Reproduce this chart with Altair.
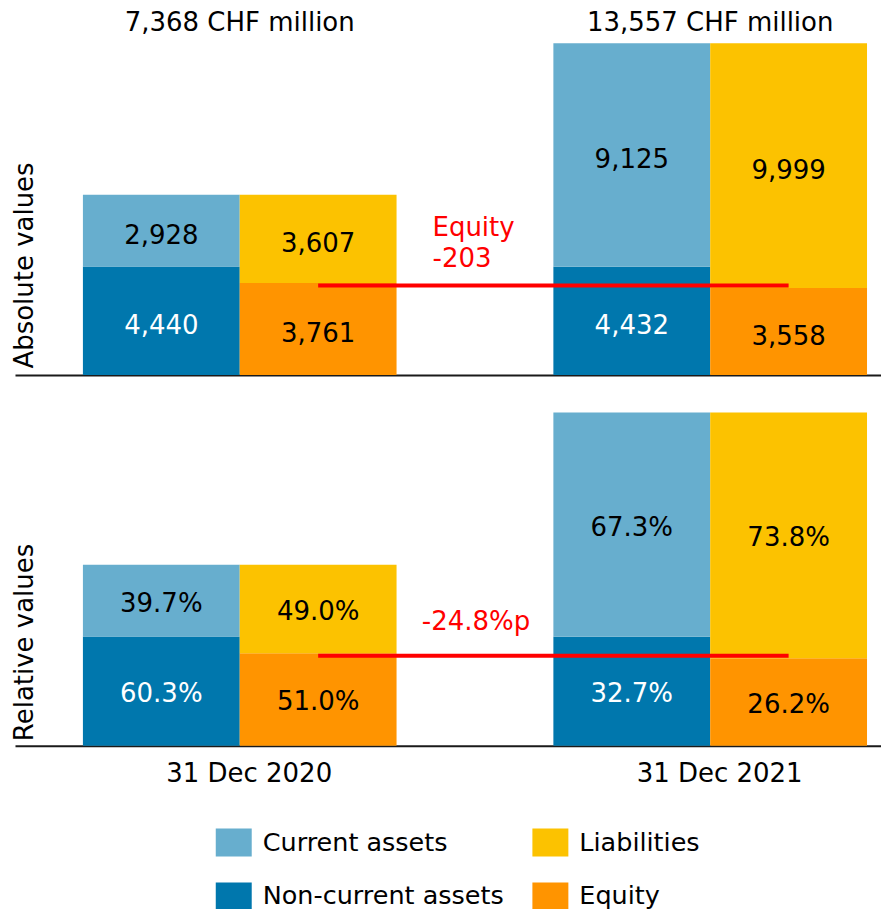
import altair as alt
import pandas as pd

# ---- data ----
years = ["31 Dec 2020", "31 Dec 2021"]
current_assets = [2928, 9125]
non_current_assets = [4440, 4432]
liabilities = [3607, 9999]
equity = [3761, 3558]
unit = "CHF million"

# legend order (filled column by column: left column assets, right column liabilities/equity)
categories = ["Current assets", "Non-current assets", "Liabilities", "Equity"]
colors = ["#67AECE", "#0077AD", "#FCC200", "#FF9400"]
RED = "#FF0000"
FONT = "DejaVu Sans"

# ---- build tables ----
rows = []
totals = []
for i, yr in enumerate(years):
    total = current_assets[i] + non_current_assets[i]
    sides = [
        [("Non-current assets", non_current_assets[i]), ("Current assets", current_assets[i])],
        [("Equity", equity[i]), ("Liabilities", liabilities[i])],
    ]
    for side, stack in enumerate(sides):
        base = 0
        for cat, v in stack:
            slot = 3 * i + side
            rows.append(dict(
                year=yr, category=cat, value=v,
                slot=slot, slot2=slot + 1, mid=slot + 0.5,
                y0=base, y1=base + v, ymid=base + v / 2,
                abs_label=f"{v:,}",
                rel_label=f"{v / total * 100:.1f}%",
            ))
            base += v
    totals.append(dict(year=yr, xmid=3 * i + 1, label=f"{total:,} {unit}"))

df = pd.DataFrame(rows)
df_tot = pd.DataFrame(totals)

eq = df[df.category == "Equity"].reset_index(drop=True)
tot0 = current_assets[0] + non_current_assets[0]
tot1 = current_assets[1] + non_current_assets[1]
eq_change = equity[1] - equity[0]
eq_change_pp = (equity[1] / tot1 - equity[0] / tot0) * 100
rule_y = (equity[0] + equity[1]) / 2
# centre of the empty slot between the two years
gap_mid = (df[df.year == years[0]].slot2.max() + df[df.year == years[1]].slot.min()) / 2

df_abs_change = pd.DataFrame([dict(x=eq.loc[0, "mid"], x2=eq.loc[1, "mid"], xm=gap_mid, y=rule_y,
                                   lines=["Equity", f"{eq_change:,}"])])
df_rel_change = pd.DataFrame([dict(x=eq.loc[0, "mid"], x2=eq.loc[1, "mid"], xm=gap_mid, y=rule_y,
                                   lines=[f"{eq_change_pp:.1f}%p"])])

STEP = 157.0
LEFT = 68.0
PLOT_W = 867
X_DOMAIN = [-LEFT / STEP, (PLOT_W - LEFT) / STEP]
date_expr = " : ".join(
    [f"datum.value == {3 * i + 1} ? '{y}'" for i, y in enumerate(years[:-1])] + [f"'{years[-1]}'"]
)

color_enc = alt.Color(
    "category:N",
    scale=alt.Scale(domain=categories, range=colors),
    legend=alt.Legend(
        title=None, orient="none", legendX=205, legendY=821, columns=2,
        symbolType="M-1.286,-1H1.286V1H-1.286Z", symbolSize=784,
        symbolStrokeWidth=0, symbolOpacity=1,
        labelFontSize=25.5, labelFont=FONT, labelColor="black",
        labelOffset=15, rowPadding=26, columnPadding=27, padding=0,
        labelLimit=400,
    ),
)


def panel(label_field, ytitle, ymax, height, title_y, dates, change_df, ann_align, ann_dx, ann_dy, label_dy):
    if dates:
        xaxis = alt.Axis(values=[3 * i + 1 for i in range(len(years))], labelExpr=date_expr,
                         ticks=False, tickSize=0, grid=False, title=None,
                         labelFontSize=26, labelFont=FONT, labelColor="black",
                         labelBaseline="alphabetic", labelPadding=36, labelOffset=9,
                         domainColor="#1a1a1a", domainWidth=2)
    else:
        xaxis = alt.Axis(labels=False, ticks=False, tickSize=0, grid=False, title=None,
                         domainColor="#1a1a1a", domainWidth=2)
    yaxis = alt.Axis(title=ytitle, labels=False, ticks=False, domain=False, grid=False,
                     titleX=-3, titleY=title_y, titleAngle=270, titleAlign="left",
                     titleBaseline="top", titleFontSize=26, titleFont=FONT,
                     titleFontWeight="normal", titleColor="black", minExtent=0)
    xs = alt.Scale(domain=X_DOMAIN, nice=False, zero=False)
    ys = alt.Scale(domain=[0, ymax], nice=False)

    bars = alt.Chart(df).mark_rect().encode(
        x=alt.X("slot:Q", scale=xs, axis=xaxis),
        x2="slot2:Q",
        y=alt.Y("y0:Q", scale=ys, axis=yaxis),
        y2="y1:Q",
        color=color_enc,
    )
    labels = alt.Chart(df).mark_text(fontSize=26, font=FONT, baseline="middle", dy=label_dy).encode(
        x="mid:Q", y="ymid:Q", text=f"{label_field}:N",
        color=alt.condition(alt.datum.category == "Non-current assets", alt.value("white"), alt.value("black")),
    )
    rule = alt.Chart(change_df).mark_rule(color=RED, strokeWidth=4).encode(
        x="x:Q", x2="x2:Q", y="y:Q")
    ann = alt.Chart(change_df).mark_text(color=RED, fontSize=26, font=FONT, align=ann_align,
                                         baseline="alphabetic", dx=ann_dx, dy=ann_dy,
                                         lineHeight=31).encode(
        x="xm:Q", y="y:Q", text="lines")
    layers = [bars, labels, rule, ann]
    if not dates:
        tot = alt.Chart(df_tot).mark_text(fontSize=26, font=FONT, baseline="alphabetic", color="black").encode(
            x="xmid:Q", y=alt.value(23), text="label:N")
        layers.append(tot)
    return alt.layer(*layers).properties(width=PLOT_W, height=height)


top = panel("abs_label", "Absolute values", 367 / 0.0245, 367, 360, False, df_abs_change, "left", -42.5, -50, 5)
bottom = panel("rel_label", "Relative values", 355 / 0.0246, 355, 350, True, df_rel_change, "center", 1, -26, 3)

chart = alt.vconcat(top, bottom, spacing=16).properties(
    padding={"left": 3, "top": 0, "right": 0, "bottom": 0}
).configure(font=FONT).configure_view(strokeWidth=0)

chart.save("out.html", embed_options={"renderer": "svg", "actions": False})
